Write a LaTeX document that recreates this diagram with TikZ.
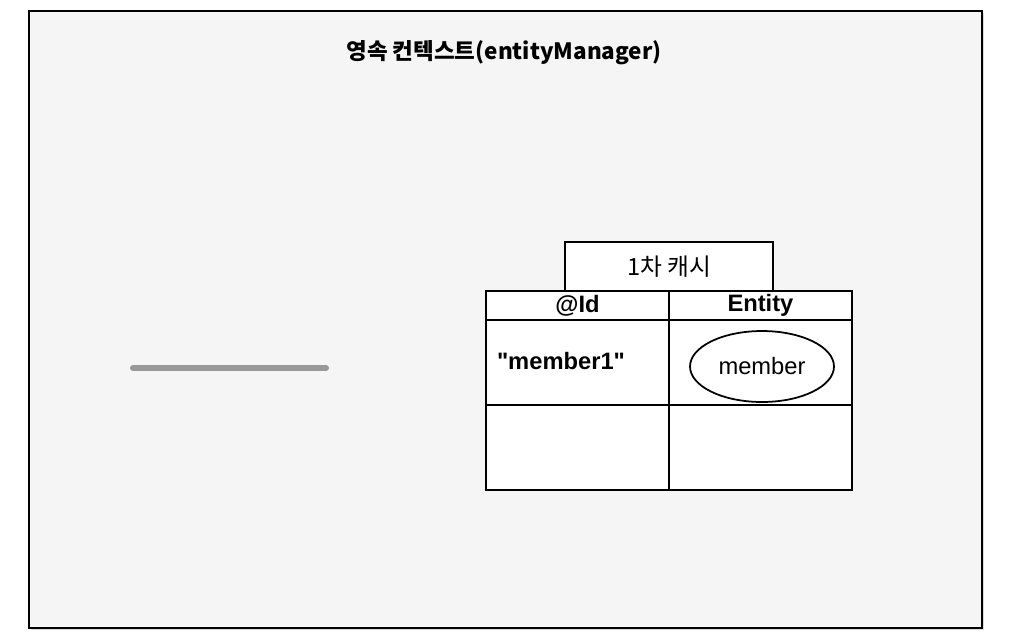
\documentclass[tikz,border=0pt]{standalone}
\usepackage{fontspec}
\setmainfont{Liberation Sans}
\newfontfamily\krfont{Noto Sans CJK KR}
\usetikzlibrary{positioning,shapes.geometric,shadows}

\begin{document}
\begin{tikzpicture}[x=0.02cm,y=-0.02cm]
        \tikzstyle{every node}=[font=\fontsize{13.5}{16}\selectfont, inner sep=0pt, outer sep=0pt]
        \tikzstyle{cell}=[draw, fill=white, line width=1pt, minimum width=3.66cm]
        \tikzstyle{head}=[cell, minimum height=0.58cm, font=\fontsize{13.5}{16}\selectfont\bfseries]
        \tikzstyle{row}=[cell, minimum height=1.7cm]
        \useasboundingbox (0,0) rectangle (1011,640);
        \node[draw, line width=1.4pt, fill=black!4, drop shadow={shadow xshift=1pt, shadow yshift=-1pt, opacity=0.3},
              minimum width=19.06cm, minimum height=12.34cm] (frame) at (505.5,319.5) {};
        \node[font=\fontsize{12.8}{15}\selectfont] (title) at (504,53) {\krfont\bfseries 영속 컨텍스트(entityManager)};
        % 1st-level cache table
        \node[cell, minimum width=4.16cm, minimum height=0.98cm] (cache) at (669,266.5) {\krfont 1차 캐시};
        \node[head] (idhead) at (577.5,305.5) {\raisebox{-1pt}{@Id}};
        \node[head, right=0pt of idhead] (entityhead) {\raisebox{-1pt}{Entity}};
        \node[row, below=0pt of idhead] (idcell1) {};
        \node[row, below=0pt of entityhead] (entitycell1) {};
        \node[row, below=0pt of idcell1] (idcell2) {};
        \node[row, below=0pt of entitycell1] (entitycell2) {};
        \node[anchor=west, font=\fontsize{13.5}{16}\selectfont\bfseries] (memberkey) at (497,361) {\textquotedbl member1\textquotedbl};
        \node[ellipse, draw, line width=1pt, minimum width=2.88cm, minimum height=1.42cm] (member) at (762,366.5) {member};
        % grey bar
        \coordinate (barstart) at (133,368);
        \coordinate (barend) at (326,368);
        \draw[line width=3.4pt, black!40, line cap=round] (barstart) -- (barend);
    \end{tikzpicture}
\end{document}
